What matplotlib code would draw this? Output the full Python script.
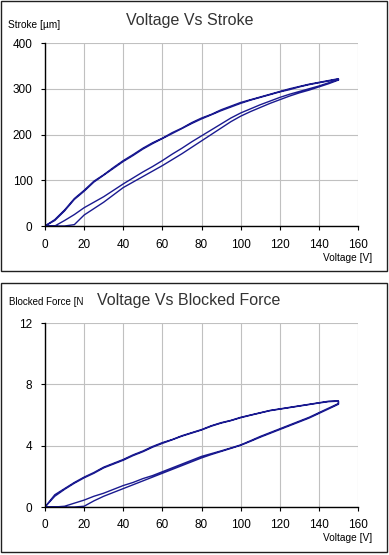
import matplotlib
matplotlib.use("Agg")
import matplotlib.pyplot as plt
from matplotlib.patches import Rectangle
import numpy as np

# ---------------- data ----------------
voltage = [0, 5, 10, 15, 20, 25, 30, 35, 40, 45, 50, 55, 60, 65, 70, 75,
           80, 85, 90, 95, 100, 105, 110, 115, 120, 125, 130, 135, 140, 145, 150]

stroke_rise_1 = [0, 0, 12, 25, 40, 52, 64, 78, 92, 105, 118, 130, 143, 157, 170, 184,
                 197, 210, 223, 236, 247, 256, 265, 273, 281, 288, 294, 300, 306, 313, 320]
stroke_fall_1 = [0, 14, 35, 60, 78, 98, 112, 128, 143, 156, 170, 182, 192, 204, 214, 226,
                 236, 244, 254, 262, 270, 276, 282, 288, 294, 300, 305, 310, 314, 318, 322]
stroke_rise_2 = [0, 0, 0, 3, 24, 38, 52, 68, 84, 96, 108, 120, 132, 145, 158, 172,
                 186, 200, 214, 228, 240, 250, 259, 268, 276, 284, 291, 297, 304, 311, 319]
stroke_fall_2 = [0, 12, 33, 58, 76, 96, 111, 126, 141, 154, 168, 180, 191, 202, 213, 224,
                 234, 243, 252, 260, 268, 275, 281, 287, 293, 298, 304, 309, 313, 317, 321]

force_rise_1 = [0, 0, 0.05, 0.25, 0.45, 0.7, 0.9, 1.15, 1.4, 1.6, 1.85, 2.05, 2.3, 2.55, 2.8, 3.05,
                3.3, 3.48, 3.66, 3.85, 4.05, 4.32, 4.6, 4.85, 5.1, 5.35, 5.6, 5.85, 6.15, 6.45, 6.75]
force_fall_1 = [0, 0.8, 1.2, 1.6, 1.95, 2.25, 2.6, 2.85, 3.1, 3.4, 3.65, 3.95, 4.2, 4.4, 4.65, 4.85,
                5.05, 5.3, 5.5, 5.65, 5.85, 6.0, 6.15, 6.3, 6.4, 6.5, 6.6, 6.7, 6.8, 6.9, 6.92]
force_rise_2 = [0, 0, 0, 0, 0.05, 0.4, 0.7, 0.95, 1.2, 1.45, 1.7, 1.95, 2.2, 2.45, 2.7, 2.95,
                3.2, 3.42, 3.62, 3.82, 4.02, 4.28, 4.55, 4.8, 5.05, 5.3, 5.55, 5.8, 6.1, 6.4, 6.7]
force_fall_2 = [0, 0.7, 1.15, 1.55, 1.9, 2.2, 2.55, 2.8, 3.05, 3.35, 3.6, 3.9, 4.15, 4.38, 4.62, 4.82,
                5.02, 5.27, 5.47, 5.63, 5.82, 5.98, 6.13, 6.28, 6.38, 6.48, 6.58, 6.68, 6.78, 6.87, 6.9]

x_ticks = [0, 20, 40, 60, 80, 100, 120, 140, 160]
stroke_ticks = [0, 100, 200, 300, 400]
force_ticks = [0, 4, 8, 12]

# ---------------- figure ----------------
W, H = 389, 555
fig = plt.figure(figsize=(W / 100, H / 100), dpi=100)
fig.patch.set_facecolor("white")

narrow = ["Liberation Sans Narrow", "Liberation Sans", "DejaVu Sans"]
arial = ["Liberation Sans", "DejaVu Sans"]
line_color = "#1a1a90"

def px(x, y):
    return x / W, 1 - y / H

# panel frames
fig.patches.append(Rectangle(px(1, 271), 386 / W, 270 / H, transform=fig.transFigure,
                             fill=False, edgecolor="#202020", linewidth=1.0))
fig.patches.append(Rectangle(px(1, 552), 386 / W, 269 / H, transform=fig.transFigure,
                             fill=False, edgecolor="#202020", linewidth=1.0))

def make_axes(top_px, bottom_px, yticks, ymax, rise1, fall1, rise2, fall2):
    l, b = px(45, bottom_px)
    r, t = px(358, top_px)
    ax = fig.add_axes([l, b, r - l, t - b])
    v = np.array(voltage)
    xs = np.concatenate([v, v[::-1], v, v[::-1]])
    ys = np.concatenate([rise1, fall1[::-1], rise2, fall2[::-1]])
    ax.plot(xs, ys, color=line_color, linewidth=1.0, solid_joinstyle="miter")
    ax.set_xlim(0, 160)
    ax.set_ylim(0, ymax)
    ax.set_xticks(x_ticks)
    ax.set_yticks(yticks)
    ax.grid(True, color="#c0c0c0", linewidth=0.8)
    ax.set_axisbelow(True)
    for s in ["top", "right"]:
        ax.spines[s].set_visible(False)
    for s in ["left", "bottom"]:
        ax.spines[s].set_color("black")
        ax.spines[s].set_linewidth(1.0)
    ax.tick_params(direction="out", length=3, width=0.8, labelsize=8.5, pad=6)
    for lab in ax.get_xticklabels() + ax.get_yticklabels():
        lab.set_family(narrow)
    return ax

ax1 = make_axes(43, 226, stroke_ticks, 400, stroke_rise_1, stroke_fall_1, stroke_rise_2, stroke_fall_2)
ax2 = make_axes(323, 507, force_ticks, 12, force_rise_1, force_fall_1, force_rise_2, force_fall_2)

# titles and labels
fig.text(*px(190, 20), "Voltage Vs Stroke", ha="center", va="center", fontsize=11.5,
         color="#333333", family=arial)
fig.text(*px(8, 25), "Stroke [µm]", ha="left", va="center", fontsize=7.3, family=narrow)
fig.text(*px(372, 258), "Voltage [V]", ha="right", va="center", fontsize=7.3, family=narrow)

fig.text(*px(189, 300), "Voltage Vs Blocked Force", ha="center", va="center", fontsize=11.5,
         color="#333333", family=arial)
fig.text(*px(9, 302), "Blocked Force [N", ha="left", va="center", fontsize=7.0, family=narrow)
fig.text(*px(372, 538), "Voltage [V]", ha="right", va="center", fontsize=7.3, family=narrow)

fig.savefig("out.png", dpi=100, facecolor="white")
